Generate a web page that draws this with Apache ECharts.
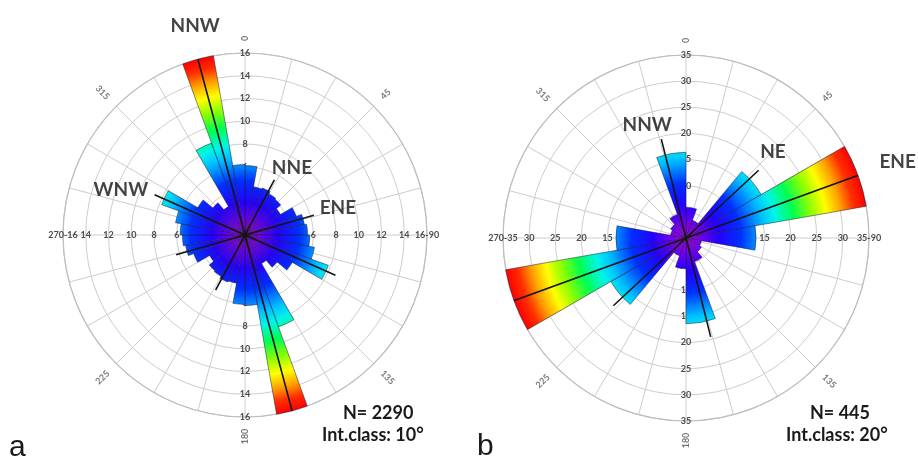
<!DOCTYPE html>
<html><head><meta charset="utf-8">
<script src="https://cdn.jsdelivr.net/npm/echarts@6/dist/echarts.min.js"></script>
<style>html,body{margin:0;padding:0;background:#fff}#c{width:918px;height:461px}</style>
</head><body><div id="c"></div>
<script>
// ---------- Panel a : 10° classes, N = 2290 ----------
const classesA = ['0-10','10-20','20-30','30-40','40-50','50-60','60-70','70-80','80-90',
  '90-100','100-110','110-120','120-130','130-140','140-150','150-160','160-170','170-180',
  '180-190','190-200','200-210','210-220','220-230','230-240','240-250','250-260','260-270',
  '270-280','280-290','290-300','300-310','310-320','320-330','330-340','340-350','350-360'];
const valuesA = [6.1,4.3,4.4,4.2,4.1,3.6,4.8,5.3,5.5,5.7,6.2,7.8,4.8,3.7,2.9,8.6,16.2,6.2,
                 6.1,4.3,4.4,4.2,4.1,3.6,4.8,5.3,5.5,5.7,6.2,7.8,4.8,3.7,2.9,8.6,16.2,6.2];
const ringTicksA = [0,2,4,6,8,10,12,14,16];
const dirNamesA = ['NNW','WNW','NNE','ENE'];
const dirAnglesA = [345,294,28,74];
const dirLengthsA = [17.8,8.7,5.5,6.3];

// ---------- Panel b : 20° classes, N = 445 ----------
const classesB = ['0-20','20-40','40-60','60-80','80-100','100-120','120-140','140-160','160-180',
  '180-200','200-220','220-240','240-260','260-280','280-300','300-320','320-340','340-360'];
const valuesB = [5.9,3.6,16.6,35.2,13.4,3.0,3.4,4.8,16.4,
                 5.9,3.6,16.6,35.2,13.4,3.0,3.4,4.8,16.4];
const ringTicksB = [0,5,10,15,20,25,30,35];
const dirNamesB = ['NNW','NE','ENE'];
const dirAnglesB = [346,47,70];
const dirLengthsB = [19.5,19,38];

const angleTickLabels = [0,45,135,180,225,315];

// ---------- layout / style ----------
const panels = [
  {cx:245, cy:235, R:182, cats:classesA, vals:valuesA, ticks:ringTicksA,
   names:dirNamesA, angles:dirAnglesA, lens:dirLengthsA,
   labelPos:[[346.6,18.9],[289.8,11.6],[35,7.2],[74,8.5]]},
  {cx:686, cy:238, R:183, cats:classesB, vals:valuesB, ticks:ringTicksB,
   names:dirNamesB, angles:dirAnglesB, lens:dirLengthsB,
   labelPos:[[341,22.8],[45.3,23.4],[70.3,43]]}
];
const jet = [[0.00,'#b000e0'],[0.08,'#7400f0'],[0.18,'#2400ff'],[0.30,'#0030ff'],
  [0.43,'#00c0ff'],[0.50,'#00f5e8'],[0.60,'#00ff50'],[0.70,'#90ff00'],
  [0.78,'#ffff00'],[0.86,'#ffa000'],[0.93,'#ff3000'],[1.00,'#ff0000']];
function grad(cx,cy,r){
  return {type:'radial',x:cx,y:cy,r:r,global:true,
    colorStops:jet.map(s=>({offset:s[0],color:s[1]}))};
}
const gridColor = '#cdcdcd';
const tickLabel = fmt => ({show:true, margin:0, align:'center', verticalAlign:'middle',
  color:'#4a4a4a', fontSize:9, fontFamily:'Lato', fontWeight:'bold', formatter:fmt});

const option = {animation:false, backgroundColor:'#fff',
  polar:[], angleAxis:[], radiusAxis:[], series:[], graphic:[]};

panels.forEach(p => {
  const max = p.ticks[p.ticks.length-1];
  const step = p.ticks[1]-p.ticks[0];
  const b = option.polar.length;
  // data polar
  option.polar.push({center:[p.cx,p.cy], radius:p.R});
  option.angleAxis.push({polarIndex:b, type:'category', data:p.cats, startAngle:90,
    clockwise:true, boundaryGap:true, show:false});
  option.radiusAxis.push({polarIndex:b, type:'value', min:0, max:max, show:false});
  // grid polar (north labels)
  option.polar.push({center:[p.cx,p.cy], radius:p.R});
  option.angleAxis.push({polarIndex:b+1, type:'value', min:0, max:360, interval:15,
    startAngle:90, clockwise:true,
    axisLine:{show:true, lineStyle:{color:'#bdbdbd', width:1.2}},
    axisTick:{show:false}, axisLabel:{show:false},
    splitLine:{show:true, lineStyle:{color:gridColor, width:1}}});
  option.radiusAxis.push({polarIndex:b+1, type:'value', min:0, max:max, interval:step,
    axisLine:{show:false}, axisTick:{show:false},
    splitLine:{show:true, lineStyle:{color:gridColor, width:1}},
    axisLabel:tickLabel(v => v === 0 ? '' : String(v))});
  // label polars for east, south, west
  [[0, v => v === 0 ? '' : (v === max ? v + '-90' : String(v))],
   [270, v => v === 0 ? '' : String(v)],
   [180, v => v === 0 ? '' : (v === max ? '270-' + v : String(v))]].forEach((d,i) => {
    const k = b + 2 + i;
    option.polar.push({center:[p.cx,p.cy], radius:p.R});
    option.angleAxis.push({polarIndex:k, type:'value', min:0, max:360, startAngle:d[0], show:false});
    option.radiusAxis.push({polarIndex:k, type:'value', min:0, max:max, interval:step,
      axisLine:{show:false}, axisTick:{show:false}, splitLine:{show:false},
      axisLabel:tickLabel(d[1])});
  });
  // angle labels, oriented radially, just outside the outer ring
  option.series.push({type:'scatter', coordinateSystem:'polar', polarIndex:b+1, symbolSize:0,
    silent:true, clip:false, z:2,
    data:angleTickLabels.map(a => {
      const s = String(a);
      let rot = 90 - a; while (rot <= -90) rot += 180; while (rot > 90) rot -= 180;
      return {name:s, value:[max * (p.R + 12 + 2.5 * s.length) / p.R, a], label:{rotate:rot}};
    }),
    label:{show:true, position:'inside', formatter:'{b}', color:'#555',
      fontFamily:'Lato', fontWeight:'bold', fontSize:9}});
  // petals
  option.series.push({type:'bar', coordinateSystem:'polar', polarIndex:b, data:p.vals,
    barCategoryGap:'0%', barGap:'0%', silent:true, zlevel:1, z:3,
    itemStyle:{color:grad(p.cx,p.cy,p.R), borderColor:'rgba(25,20,50,0.7)', borderWidth:0.7}});
  // mean direction lines
  p.names.forEach((n,i) => {
    const a = p.angles[i], L = p.lens[i];
    option.series.push({type:'line', coordinateSystem:'polar', polarIndex:b+1, clip:false,
      data:[[L,(a+180)%360],[0,a],[L,a]], symbol:'none', silent:true, zlevel:1, z:4,
      lineStyle:{color:'#151515', width:1.6}});
  });
  // direction names
  option.series.push({type:'scatter', coordinateSystem:'polar', polarIndex:b+1, symbolSize:0,
    silent:true, zlevel:1, z:5, clip:false,
    data:p.names.map((n,i) => ({name:n, value:[p.labelPos[i][1], p.labelPos[i][0]]})),
    label:{show:true, position:'inside', formatter:'{b}', color:'#141414',
      fontFamily:'Lato', fontWeight:'bold', fontSize:19}});
});

const txt = (x,y,t,font) => ({type:'text', left:x, top:y, silent:true,
  style:{text:t, font:font, fill:'#1a1a1a'}});
option.graphic = [
  txt(343,404,'N= 2290','bold 18px Lato'),
  txt(322,426,'Int.class: 10°','bold 18px Lato'),
  txt(810,404,'N= 445','bold 18px Lato'),
  txt(786,426,'Int.class: 20°','bold 18px Lato'),
  txt(9,433,'a','30px "Liberation Sans"'),
  txt(477,432,'b','30px "Liberation Sans"')
];

const chart = echarts.init(document.getElementById('c'), null, {renderer:'canvas'});
chart.setOption(option);
</script></body></html>
